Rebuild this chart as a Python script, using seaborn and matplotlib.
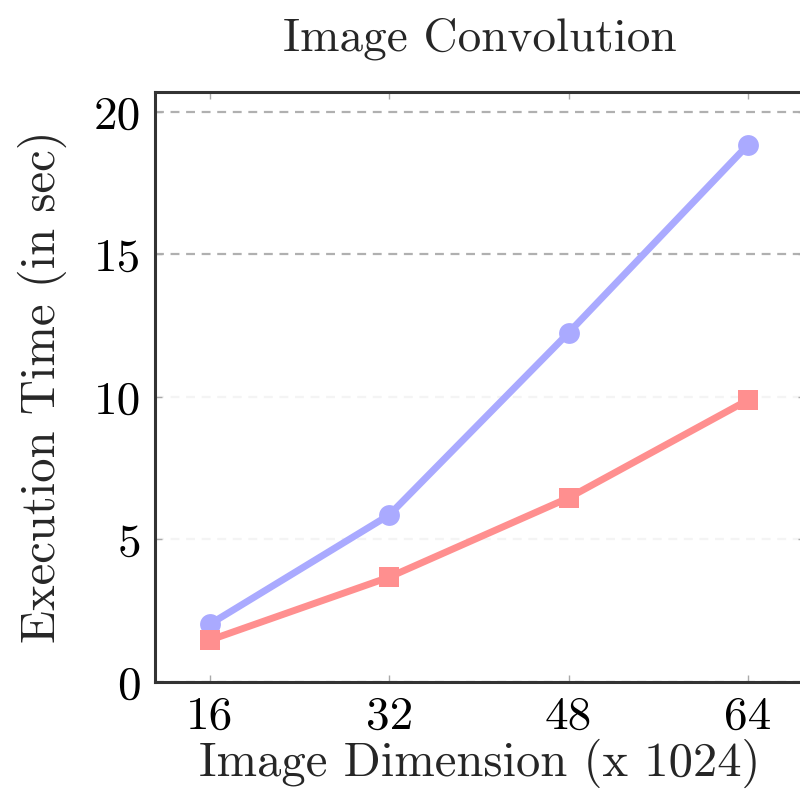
import matplotlib
matplotlib.use("Agg")
import matplotlib.pyplot as plt
import seaborn as sns
import pandas as pd

dims = [16, 32, 48, 64]
series_a = [2.03, 5.86, 12.25, 18.84]   # blue, circles
series_b = [1.47, 3.68, 6.46, 9.89]     # red, squares
x_ticks = [16, 32, 48, 64]
y_ticks = [0, 5, 10, 15, 20]

sns.set_theme(style="white")
plt.rcParams['font.family'] = ['cmr10', 'DejaVu Serif']
plt.rcParams['axes.formatter.use_mathtext'] = True
plt.rcParams['mathtext.fontset'] = 'cm'

df = pd.DataFrame({"dim": dims * 2,
                   "time": series_a + series_b,
                   "series": ["A"] * 4 + ["B"] * 4})

fig = plt.figure(figsize=(8.0, 7.94), dpi=100)
ax = fig.add_axes([155 / 800, 1 - 682 / 794, (805 - 155) / 800, (682 - 92) / 794])

palette = {"A": "#aaaaff", "B": "#ff8f8f"}
sns.lineplot(data=df, x="dim", y="time", hue="series", style="series",
             markers={"A": "o", "B": "s"}, dashes=False, palette=palette,
             linewidth=5, markersize=15, markeredgewidth=0, ax=ax,
             legend=False, zorder=3)

ax.set_xlim(11.1, 69.1)
ax.set_ylim(0, 20.7)
ax.set_xticks(x_ticks)
ax.set_yticks(y_ticks)
ax.set_xticklabels([str(v) for v in x_ticks])
ax.set_yticklabels([str(v) for v in y_ticks])

ax.yaxis.grid(True, linestyle=(0, (4, 3)), linewidth=1.6, color="#b0b0b0")
for v, gl in zip(y_ticks, ax.get_ygridlines()):
    if v in (5, 10):
        gl.set_color("#f4f4f4")
ax.xaxis.grid(False)

for s in ax.spines.values():
    s.set_color("#333333")
    s.set_linewidth(2.2)

ax.tick_params(axis="both", which="major", direction="in", length=5, width=1,
               colors="#aaaaaa", labelcolor="black", labelsize=34, pad=10,
               top=True, right=True, bottom=True, left=True)

ax.set_title("Image Convolution", fontsize=34, pad=30)
ax.set_xlabel("Image Dimension (x 1024)", fontsize=35, labelpad=1)
ax.set_ylabel("Execution Time (in sec)", fontsize=35, labelpad=19)

fig.patch.set_facecolor("white")
ax.set_facecolor("white")
fig.savefig("out.png", dpi=100)
